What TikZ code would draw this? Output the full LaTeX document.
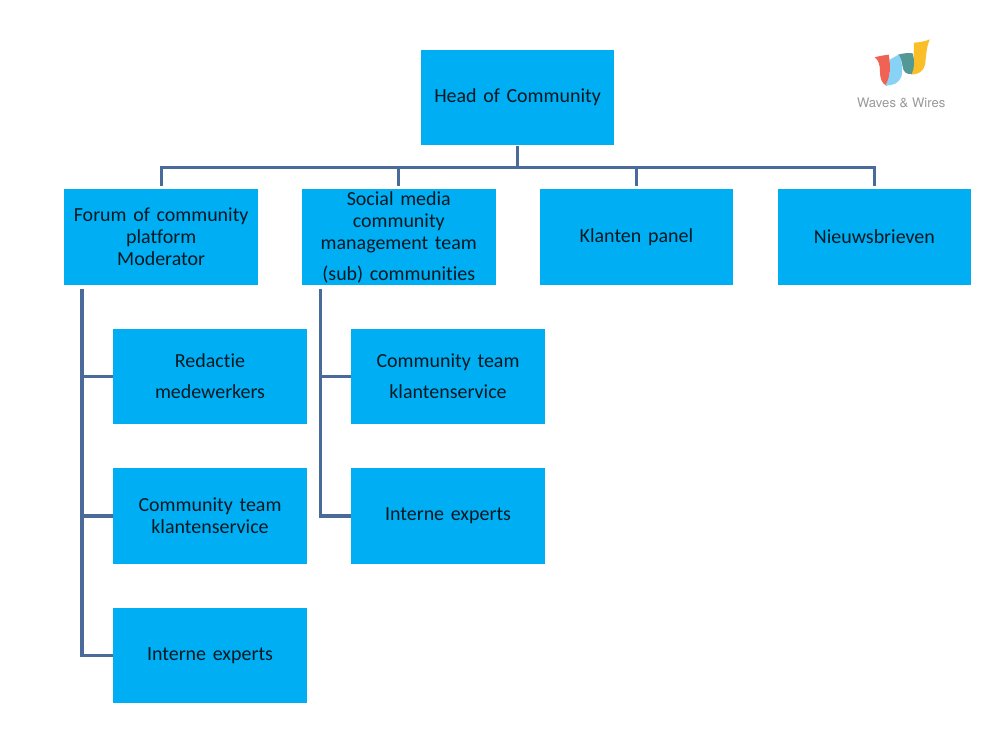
\documentclass[tikz,border=0pt]{standalone}
\usepackage{fontspec}
\setmainfont[WordSpace=0.45,Ligatures=NoCommon]{Carlito}
\newfontfamily\brandfont{TeX Gyre Heros}
\usetikzlibrary{positioning}
\definecolor{boxblue}{RGB}{0,174,243}
\definecolor{linkblue}{RGB}{74,107,154}
\definecolor{logored}{RGB}{240,98,84}
\definecolor{logosky}{RGB}{135,210,245}
\definecolor{logoteal}{RGB}{84,152,150}
\definecolor{logoyellow}{RGB}{250,190,40}
\begin{document}
\begin{tikzpicture}[
    orgbox/.style={rectangle,fill=boxblue,inner sep=0pt,text width=4.84cm,minimum height=2.39cm,
      align=center,font=\fontsize{14.2}{15.6}\selectfont,text=black!85!boxblue},
    orgline/.style={draw=linkblue,line width=2.2pt},
    logotext/.style={font=\brandfont\fontsize{9.3}{12}\selectfont,text=black!40}
  ]
    \useasboundingbox (0,0) rectangle (25.05,-18.775);

    \node[orgbox] (head) at (12.94,-2.44) {Head of Community};

    \node[orgbox] (forum) at (4.03,-5.93) {\raisebox{1pt}{Forum of community}\\\raisebox{1pt}{platform}\\\raisebox{1pt}{Moderator}};
    \node[orgbox] (social) at (9.97,-5.93) {\raisebox{1pt}{Social media}\\\raisebox{1pt}{community}\\\raisebox{1pt}{management team}\\[5.5pt](sub) communities};
    \node[orgbox] (panel) at (15.91,-5.93) {Klanten panel};
    \node[orgbox] (news) at (21.86,-5.93) {\raisebox{1pt}{Nieuwsbrieven}};

    \node[orgbox] (redactie) at (5.25,-9.41) {\raisebox{1pt}{Redactie}\\[5.5pt]medewerkers};
    \node[orgbox] (forumteam) at (5.25,-12.9) {\raisebox{1pt}{Community team}\\\raisebox{1pt}{klantenservice}};
    \node[orgbox] (forumexp) at (5.25,-16.39) {Interne experts};

    \node[orgbox] (socialteam) at (11.2,-9.41) {\raisebox{1pt}{Community team}\\[5.5pt]klantenservice};
    \node[orgbox] (socialexp) at (11.2,-12.9) {\raisebox{-1pt}{Interne experts}};

    \coordinate (bus) at (12.94,-4.18);
    \coordinate (forumrail) at (2.05,-7.22);
    \coordinate (socialrail) at (8.02,-7.22);

    \draw[orgline] (head.south) -- (bus);
    \draw[orgline,shorten >=2pt] (bus) -| (forum.north);
    \draw[orgline,shorten >=2pt] (bus) -| (social.north);
    \draw[orgline,shorten >=2pt] (bus) -| (panel.north);
    \draw[orgline,shorten >=2pt] (bus) -| (news.north);

    \draw[orgline] (forumrail) |- (redactie.west);
    \draw[orgline] (forumrail) |- (forumteam.west);
    \draw[orgline] (forumrail) |- (forumexp.west);

    \draw[orgline] (socialrail) |- (socialteam.west);
    \draw[orgline] (socialrail) |- (socialexp.west);

    % logo
    \begin{scope}[shift={(21,-0.75)},x=0.00833cm,y=-0.00833cm]
      \fill[logoyellow] (222,38) .. controls (240,37) and (256,34) .. (270,28)
        .. controls (258,50) and (258,90) .. (255,105) .. controls (250,125) and (235,133) .. (213,134)
        .. controls (224,110) and (220,70) .. (222,38) -- cycle;
      \fill[logoteal] (172,75) .. controls (185,70) and (205,68) .. (218,70)
        .. controls (224,90) and (224,115) .. (215,132) .. controls (198,134) and (190,125) .. (188,110)
        .. controls (186,95) and (182,82) .. (172,75) -- cycle;
      \fill[logored] (104,82) .. controls (118,78) and (132,76) .. (146,74)
        .. controls (152,100) and (152,140) .. (140,168) .. controls (125,160) and (120,145) .. (120,125)
        .. controls (120,105) and (116,90) .. (104,82) -- cycle;
      \fill[logosky] (148,90) .. controls (158,84) and (168,78) .. (176,74)
        .. controls (188,90) and (188,125) .. (184,140) .. controls (178,158) and (160,168) .. (136,166)
        .. controls (150,145) and (154,110) .. (148,90) -- cycle;
    \end{scope}
    \node[logotext] (brand) at (22.53,-2.58) {Waves \& Wires};
  \end{tikzpicture}
\end{document}
